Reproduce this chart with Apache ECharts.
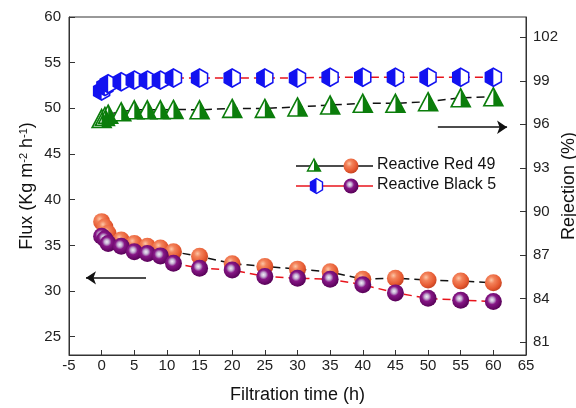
<!DOCTYPE html>
<html>
<head>
<meta charset="utf-8">
<script src="https://cdn.jsdelivr.net/npm/echarts@6/dist/echarts.min.js"></script>
<style>
  html, body { margin: 0; padding: 0; background: #fff; }
  #chart { width: 576px; height: 408px; }
</style>
</head>
<body>
<div id="chart"></div>
<script>
// filtration time (h)
const timeH = [0, 0.5, 1, 3, 5, 7, 9, 11, 15, 20, 25, 30, 35, 40, 45, 50, 55, 60]
// flux, Kg m-2 h-1 (left axis)
const fluxRed49 = [37.6, 37.0, 36.3, 35.6, 35.2, 34.9, 34.7, 34.3, 33.8, 33.0, 32.7, 32.4, 32.1, 31.3, 31.4, 31.2, 31.1, 30.9]
const fluxBlack5 = [36.0, 35.7, 35.2, 34.9, 34.3, 34.1, 33.85, 33.05, 32.5, 32.3, 31.6, 31.4, 31.3, 30.7, 29.8, 29.2, 29.0, 28.85]
// rejection, % (right axis)
const rejRed49 = [96.4, 96.55, 96.7, 96.87, 97.0, 97.0, 97.0, 97.03, 97.0, 97.1, 97.1, 97.2, 97.33, 97.45, 97.45, 97.56, 97.83, 97.9]
const rejBlack5 = [98.3, 98.6, 98.8, 98.94, 99.05, 99.05, 99.05, 99.2, 99.2, 99.2, 99.2, 99.2, 99.25, 99.25, 99.25, 99.25, 99.25, 99.25]
// tick labels
const fluxTicks = [25, 30, 35, 40, 45, 50, 55, 60]
const rejTicks = [81, 84, 87, 90, 93, 96, 99, 102]
// arrows pointing at each axis
const fluxArrow = [[6.8, 31.45], [-2.4, 31.45]]
const rejArrow = [[51.5, 95.8], [62.1, 95.8]]

const FONT = '"Liberation Sans", Arial, sans-serif'
const GREEN = '#0b7d0b'
const BLUE = '#1212f0'
const RED_LINE = '#e8141c'
const DASH = [8, 5]

const TRI_HALF = 'path://M50,0L100,100L50,100ZM0,100L0.1,100Z'
const HEX = 'path://M50,0L93,25L93,75L50,100L7,75L7,25Z'
const HEX_HALF = 'path://M50,0L50,100L7,75L7,25ZM93,50L93,50.1Z'

const orangeBall = {
  type: 'radial', x: 0.38, y: 0.34, r: 0.66,
  colorStops: [
    { offset: 0, color: '#fcc6a6' },
    { offset: 0.3, color: '#f3825a' },
    { offset: 0.75, color: '#e65a32' },
    { offset: 1, color: '#c94522' },
  ],
}
const purpleBall = {
  type: 'radial', x: 0.42, y: 0.4, r: 0.62,
  colorStops: [
    { offset: 0, color: '#f2eef6' },
    { offset: 0.22, color: '#c4aed2' },
    { offset: 0.45, color: '#861686' },
    { offset: 1, color: '#560056' },
  ],
}

const pairs = (ys) => timeH.map((t, i) => [t, ys[i]])

function arrowLine(pts) {
  return {
    silent: true,
    symbol: ['none', 'arrow'],
    symbolSize: 10,
    label: { show: false },
    lineStyle: { color: '#111', type: 'solid', width: 1.5 },
    data: [[{ coord: pts[0] }, { coord: pts[1] }]],
  }
}

const chart = echarts.init(document.getElementById('chart'))

const axisText = { color: '#222', fontSize: 15, fontFamily: FONT }
const axisLineStyle = { onZero: false, lineStyle: { color: '#333', width: 1 } }

chart.setOption({
  animation: false,
  grid: {
    left: 69, right: 50, top: 17, bottom: 53, outerBoundsMode: 'none',
    show: true, borderColor: '#333', borderWidth: 1,
  },
  xAxis: {
    type: 'value', min: -5, max: 65, interval: 5,
    name: 'Filtration time (h)', nameLocation: 'middle', nameGap: 31, nameMoveOverlap: false,
    nameTextStyle: { fontSize: 18, color: '#111', fontFamily: FONT },
    axisLine: axisLineStyle,
    axisTick: { inside: true, length: 5, lineStyle: { color: '#333' } },
    axisLabel: { ...axisText, margin: 3, showMinLabel: true, showMaxLabel: true },
    splitLine: { show: false },
  },
  yAxis: [
    {
      type: 'value', min: 23, max: 60, position: 'left',
      name: '{t|Flux (Kg m}{s|-2}{t| h}{s|-1}{t|)}', nameLocation: 'middle', nameGap: 33, nameRotate: 90,
      nameMoveOverlap: false,
      nameTextStyle: {
        rich: {
          t: { fontSize: 18, color: '#111', fontFamily: FONT },
          s: { fontSize: 11, color: '#111', fontFamily: FONT, verticalAlign: 'top' },
        },
      },
      axisLine: { show: true, ...axisLineStyle },
      axisTick: { inside: true, length: 6, customValues: fluxTicks, lineStyle: { color: '#333' } },
      axisLabel: { ...axisText, margin: 8, customValues: fluxTicks },
      splitLine: { show: false },
    },
    {
      type: 'value', min: 80.1, max: 103.4, position: 'right',
      name: 'Rejection (%)', nameLocation: 'middle', nameGap: 34, nameRotate: 90,
      nameMoveOverlap: false,
      nameTextStyle: { fontSize: 18, color: '#111', fontFamily: FONT },
      axisLine: { show: true, ...axisLineStyle },
      axisTick: { inside: true, length: 6, customValues: rejTicks, lineStyle: { color: '#333' } },
      axisLabel: { ...axisText, margin: 7, customValues: rejTicks },
      splitLine: { show: false },
    },
  ],
  series: [
    {
      name: 'Reactive Red 49 flux', type: 'line', yAxisIndex: 0, data: pairs(fluxRed49),
      symbol: 'circle', symbolSize: 17, showSymbol: true,
      itemStyle: { color: orangeBall },
      lineStyle: { color: '#111', width: 1.5, type: DASH },
      emphasis: { disabled: true },
      markLine: arrowLine(fluxArrow),
    },
    {
      name: 'Reactive Black 5 flux', type: 'line', yAxisIndex: 0, data: pairs(fluxBlack5),
      symbol: 'circle', symbolSize: 17, showSymbol: true,
      itemStyle: { color: purpleBall },
      lineStyle: { color: RED_LINE, width: 1.5, type: DASH },
      emphasis: { disabled: true },
    },
    {
      name: 'Reactive Red 49 rejection', type: 'line', yAxisIndex: 1, data: pairs(rejRed49),
      symbol: 'triangle', symbolSize: [19, 18], showSymbol: true,
      itemStyle: { color: '#fff', borderColor: GREEN, borderWidth: 1.6 },
      lineStyle: { color: '#111', width: 1.5, type: DASH },
      emphasis: { disabled: true },
      markLine: arrowLine(rejArrow),
    },
    {
      name: 'Reactive Red 49 rejection fill', type: 'line', yAxisIndex: 1, data: pairs(rejRed49),
      symbol: TRI_HALF, symbolSize: [19, 18], showSymbol: true,
      itemStyle: { color: GREEN, borderWidth: 0 },
      lineStyle: { opacity: 0 },
      emphasis: { disabled: true },
    },
    {
      name: 'Reactive Black 5 rejection', type: 'line', yAxisIndex: 1, data: pairs(rejBlack5),
      symbol: HEX, symbolSize: [16, 18], showSymbol: true,
      itemStyle: { color: '#fff', borderColor: BLUE, borderWidth: 1.6 },
      lineStyle: { color: RED_LINE, width: 1.5, type: DASH },
      emphasis: { disabled: true },
    },
    {
      name: 'Reactive Black 5 rejection fill', type: 'line', yAxisIndex: 1, data: pairs(rejBlack5),
      symbol: HEX_HALF, symbolSize: [16, 18], showSymbol: true,
      itemStyle: { color: BLUE, borderWidth: 0 },
      lineStyle: { opacity: 0 },
      emphasis: { disabled: true },
    },
  ],
  // hand-drawn legend, two symbols per entry like the original
  graphic: [
    { type: 'line', shape: { x1: 296, y1: 166, x2: 373, y2: 166 }, style: { stroke: '#111', lineWidth: 1.5 } },
    { type: 'polygon', shape: { points: [[314, 159], [320.5, 171], [307.5, 171]] }, style: { fill: '#fff', stroke: GREEN, lineWidth: 1.4 } },
    { type: 'polygon', shape: { points: [[314, 159], [320.5, 171], [314, 171]] }, style: { fill: GREEN } },
    { type: 'circle', shape: { cx: 351, cy: 166, r: 7.5 }, style: { fill: orangeBall } },
    { type: 'text', left: 377, top: 157, style: { text: 'Reactive Red 49', fontSize: 16, fontFamily: FONT, fill: '#111' } },

    { type: 'line', shape: { x1: 296, y1: 186, x2: 373, y2: 186 }, style: { stroke: RED_LINE, lineWidth: 1.5 } },
    { type: 'polygon', shape: { points: [[316.5, 178.5], [322.5, 182.2], [322.5, 189.8], [316.5, 193.5], [310.5, 189.8], [310.5, 182.2]] }, style: { fill: '#fff', stroke: BLUE, lineWidth: 1.4 } },
    { type: 'polygon', shape: { points: [[316.5, 178.5], [316.5, 193.5], [310.5, 189.8], [310.5, 182.2]] }, style: { fill: BLUE } },
    { type: 'circle', shape: { cx: 351, cy: 186, r: 7.5 }, style: { fill: purpleBall } },
    { type: 'text', left: 377, top: 177, style: { text: 'Reactive Black 5', fontSize: 16, fontFamily: FONT, fill: '#111' } },
  ],
})
</script>
</body>
</html>
